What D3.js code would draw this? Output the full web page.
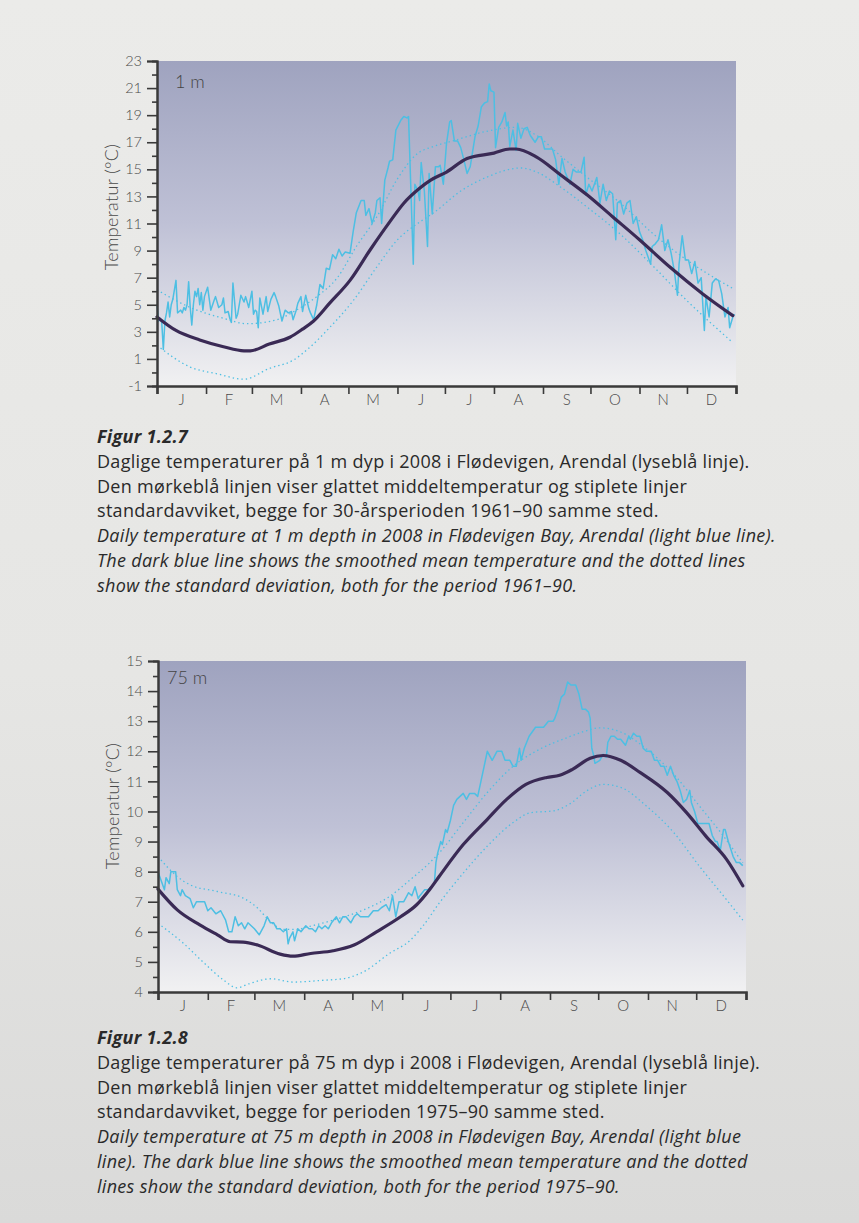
<!DOCTYPE html>
<html>
<head>
<meta charset="utf-8">
<script src="https://cdn.jsdelivr.net/npm/d3@7"></script>
<style>
  body { margin: 0; background: #e8e8e6; }
  svg { display: block; }
  text { font-family: "Gill Sans", Lato, "Noto Sans", sans-serif; }
  .caption text { font-family: "Gill Sans", "Open Sans", "Noto Sans", sans-serif; }
</style>
</head>
<body>
<script>
// month ticks / labels (2008 is a leap year)
const monthLabels = ["J", "F", "M", "A", "M", "J", "J", "A", "S", "O", "N", "D"];
const monthStarts = [0, 31, 60, 91, 121, 152, 182, 213, 244, 274, 305, 335, 366];

// ---- 1 m depth : [day of year, temperature] ----
const daily1m = [
  [0,5.0],[1,3.8],[2,4.0],[3,3.7],[4,1.7],[5,3.8],[6,4.4],[7,5.2],[8,4.1],[9,5.0],[10,5.4],[12,6.8],
  [13,4.4],[14,4.5],[15,4.6],[16,4.4],[17,4.8],[18,4.6],[19,5.0],[20,6.7],[21,4.8],[22,3.5],[23,5.0],
  [24,6.0],[25,5.6],[26,6.2],[27,5.0],[28,5.9],[29,4.6],[30,5.6],[32,6.3],[34,4.6],[36,5.3],[37,5.6],
  [39,4.8],[41,5.0],[42,5.5],[43,4.4],[45,4.5],[46,4.0],[47,3.7],[48,6.6],[50,4.0],[51,4.3],[53,5.7],
  [55,5.2],[56,5.6],[58,4.8],[60,6.0],[61,4.3],[62,4.6],[63,4.5],[64,3.3],[65,5.5],[67,4.3],[69,5.6],
  [70,4.5],[72,5.4],[74,5.9],[75,5.6],[77,4.9],[79,3.8],[81,4.6],[83,4.4],[85,4.5],[86,3.9],[88,4.6],
  [89,5.1],[91,5.6],[92,4.5],[94,5.7],[96,4.7],[97,4.4],[99,3.9],[101,5.0],[103,6.5],[105,6.2],
  [107,7.7],[109,7.6],[111,8.7],[113,8.4],[115,9.1],[117,8.6],[119,8.9],[122,8.8],[124,10.4],[126,11.8],
  [129,12.7],[131,12.7],[132,11.6],[134,12.1],[136,11.0],[138,11.8],[139,12.7],[141,12.9],[142,11.0],
  [144,14.2],[146,15.1],[147,15.6],[149,15.7],[151,17.9],[154,18.6],[156,18.9],[158,18.8],[159,18.9],
  [162,8.0],[163,13.9],[165,13.4],[166,12.7],[167,15.5],[169,13.4],[171,9.3],[172,14.7],[174,11.7],
  [176,15.2],[178,15.2],[179,15.3],[181,13.9],[183,16.9],[185,18.5],[186,18.6],[188,17.1],[190,17.1],
  [192,16.6],[194,15.7],[196,14.7],[198,15.2],[201,17.4],[203,18.2],[205,19.6],[207,19.9],[209,20.0],
  [210,21.3],[211,20.8],[213,20.7],[214,16.6],[216,18.1],[218,18.5],[220,19.2],[221,18.2],[222,18.5],
  [223,16.7],[225,17.9],[227,16.4],[228,18.4],[230,17.3],[232,18.0],[234,18.1],[236,17.5],[239,17.0],
  [241,17.4],[243,17.4],[245,16.5],[248,16.5],[250,16.5],[252,15.7],[254,13.9],[256,15.8],[258,14.8],
  [261,13.9],[263,15.0],[265,14.8],[268,14.8],[270,15.9],[271,13.1],[273,13.9],[275,13.4],[278,14.4],
  [280,12.5],[282,13.9],[284,12.7],[286,13.4],[288,13.2],[290,9.8],[291,12.5],[293,12.7],[295,11.7],
  [297,12.5],[299,12.7],[301,11.0],[303,11.5],[305,10.4],[307,9.8],[309,9.0],[312,8.0],[313,9.3],
  [315,9.5],[317,9.8],[319,10.9],[321,9.0],[323,9.8],[325,8.8],[327,7.5],[329,5.7],[330,8.0],[332,10.1],
  [334,8.3],[336,8.3],[338,7.3],[340,8.2],[342,6.6],[344,7.0],[346,3.1],[347,5.6],[349,4.1],[351,6.6],
  [353,6.9],[355,6.8],[357,5.8],[359,4.1],[361,4.8],[362,3.3],[364,4.1],[365,4.3]
];
const mean1m = [
  [0,4.1],[12,3.1],[27,2.4],[42,1.9],[55,1.6],[59,1.6],[71,2.1],[84,2.6],[92,3.2],[99,3.8],[109,5.1],
  [122,6.8],[135,9.1],[147,11.1],[156,12.5],[166,13.6],[173,14.2],[183,14.8],[196,15.8],[213,16.2],
  [223,16.5],[227,16.5],[240,15.9],[255,14.6],[272,13.1],[288,11.5],[305,9.8],[324,7.8],[345,5.8],[364,4.2]
];
const sdHigh1m = [
  [0,6.1],[21,4.8],[42,4.0],[57,3.6],[76,3.9],[88,4.6],[101,5.6],[114,7.0],[126,9.3],[139,11.5],
  [152,14.3],[164,16.1],[175,16.7],[187,17.1],[208,17.8],[227,18.1],[240,17.5],[255,16.0],[272,14.4],
  [293,12.5],[314,10.2],[335,8.3],[364,6.2]
];
const sdLow1m = [
  [0,2.0],[21,0.4],[38,-0.1],[55,-0.5],[71,0.3],[86,0.9],[97,1.9],[109,3.3],[124,5.3],[139,7.8],
  [152,9.8],[166,11.1],[175,11.8],[192,13.4],[208,14.4],[230,15.1],[240,14.8],[255,13.7],[272,12.2],
  [293,10.2],[314,7.8],[335,5.3],[364,2.2]
];

// ---- 75 m depth : [day of year, temperature] ----
const daily75m = [
  [0,8.0],[2,7.7],[4,7.4],[5,7.8],[7,7.6],[8,8.0],[11,8.0],[12,7.4],[14,7.2],[15,7.4],[17,7.2],[20,7.1],
  [22,6.8],[24,7.0],[26,7.0],[29,7.0],[31,6.7],[33,6.8],[36,6.6],[39,6.7],[42,6.4],[44,6.0],[46,6.0],
  [48,6.5],[50,6.2],[52,6.3],[54,6.1],[56,6.3],[58,6.2],[60,6.1],[63,5.9],[66,6.2],[68,6.5],[70,6.3],
  [72,6.3],[74,6.1],[76,6.1],[78,6.0],[80,6.1],[81,5.6],[82,5.8],[84,6.0],[85,5.7],[87,6.1],[89,6.0],
  [92,6.2],[94,6.1],[96,6.1],[98,6.0],[100,6.2],[102,6.1],[104,6.2],[106,6.1],[108,6.3],[111,6.5],
  [113,6.3],[115,6.5],[117,6.5],[120,6.3],[122,6.5],[124,6.6],[126,6.5],[128,6.5],[131,6.5],[134,6.7],
  [137,6.7],[139,6.8],[142,6.9],[144,6.7],[146,7.2],[148,6.5],[150,7.0],[153,7.0],[156,7.3],[158,7.2],
  [160,7.5],[162,7.1],[163,7.2],[166,7.4],[168,7.4],[170,7.5],[172,7.6],[173,8.3],[174,8.6],[176,9.0],
  [177,8.9],[179,9.4],[180,9.3],[182,9.7],[184,10.2],[186,10.4],[188,10.5],[190,10.6],[192,10.4],
  [194,10.6],[197,10.6],[199,10.5],[201,11.0],[203,11.5],[205,12.0],[208,11.7],[211,12.0],[214,12.0],
  [216,11.7],[219,11.7],[221,11.5],[223,11.5],[225,12.1],[226,11.7],[228,12.1],[231,12.5],[235,12.8],
  [237,12.8],[240,12.8],[243,13.0],[246,13.0],[247,13.1],[249,13.4],[251,13.8],[253,13.9],[255,14.3],
  [257,14.2],[260,14.2],[262,13.9],[264,13.4],[266,13.4],[268,13.3],[269,13.1],[270,12.1],[271,11.9],
  [272,11.6],[275,11.7],[277,11.9],[279,11.8],[280,12.3],[282,12.5],[284,12.5],[286,12.4],[288,12.4],
  [291,12.2],[293,12.5],[294,12.4],[296,12.6],[298,12.5],[300,12.5],[302,12.1],[304,12.0],[307,12.0],
  [309,11.7],[311,11.7],[313,11.5],[315,11.5],[317,11.2],[319,11.5],[321,11.2],[323,11.0],[325,10.7],
  [327,10.3],[329,10.4],[331,10.7],[332,10.3],[334,10.0],[336,9.6],[338,9.6],[340,9.6],[343,9.6],
  [345,9.2],[347,9.0],[348,9.0],[350,8.7],[352,9.4],[353,9.4],[355,9.0],[358,8.5],[360,8.3],[362,8.3],[364,8.2]
];
const mean75m = [
  [0,7.42],[12,6.73],[26,6.23],[37,5.9],[45,5.67],[53,5.66],[62,5.56],[76,5.26],[84,5.19],[95,5.28],
  [109,5.37],[122,5.56],[136,6.0],[151,6.5],[161,6.9],[169,7.4],[175,7.84],[190,8.9],[205,9.74],
  [217,10.4],[229,10.9],[242,11.13],[250,11.2],[258,11.4],[269,11.77],[277,11.86],[288,11.7],
  [300,11.3],[317,10.63],[329,9.96],[341,9.18],[354,8.4],[364,7.53]
];
const sdHigh75m = [
  [0,8.5],[12,7.84],[20,7.56],[37,7.34],[53,7.12],[61,6.84],[70,6.34],[78,6.08],[86,6.08],[95,6.19],
  [111,6.42],[128,6.73],[144,7.17],[157,7.73],[169,8.29],[175,8.62],[190,9.63],[205,10.63],[221,11.5],
  [238,12.08],[254,12.44],[267,12.69],[275,12.78],[288,12.64],[304,12.08],[321,11.24],[337,10.18],
  [352,9.18],[364,8.29]
];
const sdLow75m = [
  [0,6.28],[16,5.61],[28,5.0],[41,4.39],[49,4.14],[57,4.28],[70,4.44],[84,4.33],[103,4.39],[115,4.44],
  [128,4.67],[144,5.28],[157,5.72],[165,6.2],[175,6.95],[190,7.95],[205,8.85],[221,9.63],[232,9.96],
  [246,10.02],[256,10.24],[267,10.69],[277,10.9],[288,10.8],[304,10.18],[321,9.3],[337,8.18],
  [354,7.06],[364,6.39]
];

const caption1 = [
  { t: "Figur 1.2.7", s: "bold" },
  { t: "Daglige temperaturer på 1 m dyp i 2008 i Flødevigen, Arendal (lyseblå linje).", s: "normal" },
  { t: "Den mørkeblå linjen viser glattet middeltemperatur og stiplete linjer", s: "normal" },
  { t: "standardavviket, begge for 30-årsperioden 1961–90 samme sted.", s: "normal" },
  { t: "Daily temperature at 1 m depth in 2008 in Flødevigen Bay, Arendal (light blue line).", s: "italic" },
  { t: "The dark blue line shows the smoothed mean temperature and the dotted lines", s: "italic" },
  { t: "show the standard deviation, both for the period 1961–90.", s: "italic" }
];
const caption2 = [
  { t: "Figur 1.2.8", s: "bold" },
  { t: "Daglige temperaturer på 75 m dyp i 2008 i Flødevigen, Arendal (lyseblå linje).", s: "normal" },
  { t: "Den mørkeblå linjen viser glattet middeltemperatur og stiplete linjer", s: "normal" },
  { t: "standardavviket, begge for perioden 1975–90 samme sted.", s: "normal" },
  { t: "Daily temperature at 75 m depth in 2008 in Flødevigen Bay, Arendal (light blue", s: "italic" },
  { t: "line). The dark blue line shows the smoothed mean temperature and the dotted", s: "italic" },
  { t: "lines show the standard deviation, both for the period 1975–90.", s: "italic" }
];

const W = 859, H = 1223;
const lightBlue = "#4dbfe3", darkLine = "#3a2a55", axisColor = "#3a3a3a", labelColor = "#4a4a4a";

const svg = d3.select("body").append("svg").attr("width", W).attr("height", H);
const defs = svg.append("defs");

const pageGrad = defs.append("linearGradient").attr("id", "pageGrad")
  .attr("x1", 0).attr("y1", 0).attr("x2", 0).attr("y2", 1);
pageGrad.append("stop").attr("offset", "0%").attr("stop-color", "#ebebe9");
pageGrad.append("stop").attr("offset", "55%").attr("stop-color", "#e6e6e4");
pageGrad.append("stop").attr("offset", "100%").attr("stop-color", "#dadad9");

const plotGrad = defs.append("linearGradient").attr("id", "plotGrad")
  .attr("x1", 0).attr("y1", 0).attr("x2", 0).attr("y2", 1);
plotGrad.append("stop").attr("offset", "0%").attr("stop-color", "#9fa3bf");
plotGrad.append("stop").attr("offset", "50%").attr("stop-color", "#bfc1d6");
plotGrad.append("stop").attr("offset", "100%").attr("stop-color", "#f1f1f2");

svg.append("rect").attr("width", W).attr("height", H).attr("fill", "url(#pageGrad)");

drawChart({
  top: 61, bottom: 386, left: 157, right: 736,
  yMin: -1, yMax: 23,
  major: d3.range(-1, 24, 2), minor: d3.range(0, 23, 2),
  depth: "1 m", depthX: 175, depthY: 88, titleX: 112, titleY: 207,
  daily: daily1m, mean: mean1m, sdHigh: sdHigh1m, sdLow: sdLow1m
});

drawChart({
  top: 661, bottom: 992, left: 158, right: 746,
  yMin: 4, yMax: 15,
  major: d3.range(4, 16, 1), minor: d3.range(4.5, 15, 1),
  depth: "75 m", depthX: 167, depthY: 684, titleX: 113, titleY: 806,
  daily: daily75m, mean: mean75m, sdHigh: sdHigh75m, sdLow: sdLow75m
});

drawCaption(caption1, 97, 443);
drawCaption(caption2, 97, 1044);

function drawChart(c) {
  const x = d3.scaleLinear().domain([0, 366]).range([c.left, c.right]);
  const y = d3.scaleLinear().domain([c.yMin, c.yMax]).range([c.bottom, c.top]);
  const g = svg.append("g");

  g.append("rect")
    .attr("x", c.left).attr("y", c.top)
    .attr("width", c.right - c.left).attr("height", c.bottom - c.top)
    .attr("fill", "url(#plotGrad)");

  const line = d3.line().x(d => x(d[0])).y(d => y(d[1]));
  const smooth = d3.line().x(d => x(d[0])).y(d => y(d[1])).curve(d3.curveMonotoneX);

  [c.sdHigh, c.sdLow].forEach(s => {
    g.append("path").datum(s)
      .attr("d", smooth)
      .attr("fill", "none")
      .attr("stroke", lightBlue)
      .attr("stroke-width", 1.3)
      .attr("stroke-dasharray", "1.4 3");
  });

  g.append("path").datum(c.daily)
    .attr("d", line)
    .attr("fill", "none")
    .attr("stroke", lightBlue)
    .attr("stroke-width", 1.5)
    .attr("stroke-linejoin", "round");

  g.append("path").datum(c.mean)
    .attr("d", smooth)
    .attr("fill", "none")
    .attr("stroke", darkLine)
    .attr("stroke-width", 3.2)
    .attr("stroke-linecap", "round");

  // y axis: minor ticks, then major ticks with labels
  const yMinor = g.append("g")
    .attr("transform", `translate(${c.left},0)`)
    .call(d3.axisLeft(y).tickValues(c.minor).tickSize(5).tickFormat(""));
  const yMajor = g.append("g")
    .attr("transform", `translate(${c.left},0)`)
    .call(d3.axisLeft(y).tickValues(c.major).tickSize(10).tickPadding(5)
      .tickFormat(d => d < 0 ? "-" + Math.abs(d) : d));
  [yMinor, yMajor].forEach(a => {
    a.select(".domain").attr("stroke", axisColor).attr("stroke-width", 2);
    a.selectAll(".tick line").attr("stroke", axisColor).attr("stroke-width", 1.6);
  });
  yMajor.selectAll(".tick text")
    .attr("fill", labelColor)
    .style("font-size", "14.5px")
    .style("font-weight", 300);

  // x axis: month boundaries + month letters
  const xAxis = g.append("g")
    .attr("transform", `translate(0,${c.bottom})`)
    .call(d3.axisBottom(x).tickValues(monthStarts).tickSize(8).tickFormat(""));
  xAxis.select(".domain").attr("stroke", axisColor).attr("stroke-width", 2.6);
  xAxis.selectAll(".tick line").attr("stroke", axisColor).attr("stroke-width", 1.6);

  g.selectAll(".month")
    .data(monthLabels)
    .enter().append("text")
    .attr("x", (d, i) => x((monthStarts[i] + monthStarts[i + 1]) / 2))
    .attr("y", c.bottom + 19)
    .attr("text-anchor", "middle")
    .attr("fill", labelColor)
    .style("font-size", "15px")
    .style("font-weight", 300)
    .text(d => d);

  g.append("text")
    .attr("x", c.depthX).attr("y", c.depthY)
    .attr("fill", "#444")
    .style("font-size", "18px")
    .style("font-weight", 300)
    .text(c.depth);

  g.append("text")
    .attr("transform", `translate(${c.titleX},${c.titleY}) rotate(-90)`)
    .attr("text-anchor", "middle")
    .attr("dy", "0.35em")
    .attr("fill", labelColor)
    .style("font-size", "18px")
    .style("letter-spacing", "0.3px")
    .style("font-weight", 300)
    .text("Temperatur (°C)");
}

function drawCaption(lines, x0, y0) {
  svg.append("g").attr("class", "caption").selectAll("text")
    .data(lines)
    .enter().append("text")
    .attr("x", x0)
    .attr("y", (d, i) => y0 + i * 24.8)
    .attr("fill", "#2a2a2a")
    .style("font-size", "18px")
    .style("letter-spacing", "0.3px")
    .style("font-style", d => d.s === "normal" ? "normal" : "italic")
    .style("font-weight", d => d.s === "bold" ? 700 : 400)
    .text(d => d.t);
}
</script>
</body>
</html>
